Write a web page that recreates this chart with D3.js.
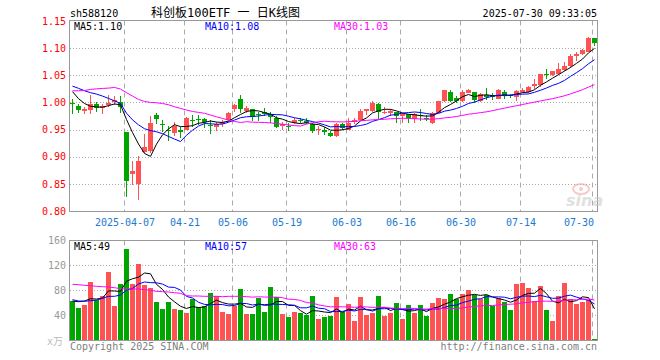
<!DOCTYPE html>
<html><head><meta charset="utf-8">
<script src="https://cdn.jsdelivr.net/npm/d3@7"></script>
<style>
html,body{margin:0;padding:0;background:#fff;}
svg{display:block;}
text{font-family:"DejaVu Sans Mono","Liberation Mono","Noto Sans CJK SC",monospace;font-size:10px;}
</style>
</head><body>
<svg id="c" width="660" height="360"></svg>
<script>
// ---------- data ----------
const dates = [
"2025-03-24","2025-03-25","2025-03-26","2025-03-27","2025-03-28","2025-03-31",
"2025-04-01","2025-04-02","2025-04-03","2025-04-07","2025-04-08","2025-04-09","2025-04-10","2025-04-11",
"2025-04-14","2025-04-15","2025-04-16","2025-04-17","2025-04-18","2025-04-21","2025-04-22","2025-04-23",
"2025-04-24","2025-04-25","2025-04-28","2025-04-29","2025-04-30",
"2025-05-06","2025-05-07","2025-05-08","2025-05-09","2025-05-12","2025-05-13","2025-05-14","2025-05-15",
"2025-05-16","2025-05-19","2025-05-20","2025-05-21","2025-05-22","2025-05-23","2025-05-26","2025-05-27",
"2025-05-28","2025-05-29","2025-05-30",
"2025-06-03","2025-06-04","2025-06-05","2025-06-06","2025-06-09","2025-06-10","2025-06-11","2025-06-12",
"2025-06-13","2025-06-16","2025-06-17","2025-06-18","2025-06-19","2025-06-20","2025-06-23","2025-06-24",
"2025-06-25","2025-06-26","2025-06-27","2025-06-30",
"2025-07-01","2025-07-02","2025-07-03","2025-07-04","2025-07-07","2025-07-08","2025-07-09","2025-07-10",
"2025-07-11","2025-07-14","2025-07-15","2025-07-16","2025-07-17","2025-07-18","2025-07-21","2025-07-22",
"2025-07-23","2025-07-24","2025-07-25","2025-07-28","2025-07-29","2025-07-30"];

const open = [
0.999,0.993,0.985,0.987,0.998,0.991,0.996,1.000,1.000,0.946,
0.869,0.850,0.907,0.912,0.977,0.961,0.949,0.943,0.949,0.949,
0.968,0.970,0.970,0.959,0.955,0.960,0.969,0.988,1.006,0.983,
0.987,0.979,0.983,0.979,0.972,0.956,0.957,0.961,0.968,0.966,
0.960,0.950,0.949,0.944,0.938,0.960,0.951,0.964,0.969,0.984,
0.984,0.998,0.981,0.980,0.982,0.976,0.978,0.969,0.976,0.972,
0.962,0.981,1.003,1.020,1.009,1.003,1.018,1.019,1.003,1.014,
1.013,1.007,1.020,1.013,1.010,1.019,1.019,1.031,1.032,1.053,
1.050,1.052,1.060,1.066,1.087,1.089,1.093,1.118];
const high = [
1.006,0.998,0.992,1.013,1.001,0.998,1.013,1.012,1.012,0.946,
0.893,0.901,0.942,0.975,0.980,0.967,0.956,0.964,0.955,0.974,
0.977,0.976,0.972,0.967,0.964,0.968,0.983,0.998,1.014,0.993,
0.987,0.983,0.989,0.983,0.975,0.964,0.963,0.971,0.971,0.972,
0.963,0.956,0.954,0.948,0.963,0.963,0.972,0.972,0.987,0.988,
1.003,0.999,0.991,0.987,0.983,0.981,0.979,0.980,0.987,0.977,
0.983,1.003,1.023,1.022,1.012,1.022,1.025,1.020,1.018,1.026,
1.018,1.024,1.022,1.016,1.023,1.026,1.030,1.044,1.053,1.061,
1.058,1.073,1.074,1.089,1.093,1.098,1.120,1.118];
const low = [
0.978,0.980,0.979,0.979,0.982,0.979,0.991,0.996,0.980,0.826,
0.848,0.820,0.906,0.907,0.960,0.946,0.929,0.938,0.934,0.949,
0.955,0.958,0.952,0.941,0.947,0.955,0.964,0.983,0.980,0.980,
0.966,0.966,0.975,0.963,0.952,0.950,0.948,0.960,0.963,0.961,
0.944,0.940,0.940,0.936,0.937,0.949,0.949,0.960,0.968,0.976,
0.982,0.970,0.979,0.975,0.963,0.963,0.963,0.963,0.966,0.966,
0.960,0.980,1.001,1.001,0.999,1.001,1.017,0.999,1.001,1.004,
1.004,1.006,1.007,1.009,1.003,1.017,1.017,1.025,1.028,1.044,
1.049,1.050,1.057,1.064,1.077,1.088,1.092,1.104];
const close = [
0.997,0.985,0.988,0.998,0.991,0.994,0.999,1.004,0.990,0.856,
0.874,0.893,0.917,0.963,0.969,0.960,0.947,0.956,0.945,0.971,
0.967,0.969,0.964,0.958,0.961,0.964,0.981,0.995,0.988,0.989,
0.972,0.978,0.979,0.974,0.955,0.960,0.956,0.967,0.967,0.963,
0.948,0.951,0.945,0.938,0.961,0.953,0.963,0.968,0.985,0.988,
0.999,0.983,0.982,0.984,0.974,0.979,0.971,0.979,0.975,0.970,
0.981,1.003,1.023,1.004,1.004,1.019,1.023,1.004,1.015,1.010,
1.010,1.023,1.012,1.011,1.021,1.023,1.028,1.034,1.052,1.052,
1.057,1.061,1.067,1.085,1.090,1.096,1.118,1.109];
// volume, unit: 10k (万)
const volume = [
62.4,51.7,56,93.3,64,70.4,109.3,54.9,90.1,145.6,
90.1,122.1,88,83.7,61.3,49.6,61.3,49.6,48,43.7,
65,53.3,54.4,75.7,70.4,45.3,41.6,53.9,82.1,41.6,
41.6,67.7,44.8,84.8,68.8,41.6,36.8,44.8,43.2,40,
70.4,33.6,36.8,38.4,68.8,44.8,57.6,30.4,68.8,40,
43.2,70.4,38.4,43.2,59.2,33.6,56,43.2,56,38.4,
59.2,67.2,65.6,73.6,65.6,73.6,80,72,65.6,72,
54.4,67.2,60.8,48,89.6,91.2,83.2,62.4,86.4,48,
30.4,70.4,91.2,65.6,57.6,60.8,64,1.2];

const ma5Head  = [1.020,1.007,0.998,0.993];
const ma10Head = [1.030,1.026,1.0215,1.018,1.0154,1.0117,1.0074,1.003,0.998];
const ma30Head = [1.0215,1.0215,1.022,1.024,1.025,1.0258,1.0264,1.0276,1.0246,1.018,
                  1.0117,1.0055,1.0018,1.000,0.9994,0.998,0.9957,0.992,0.989,0.986,
                  0.9834,0.9816,0.980,0.9767,0.9736,0.9705,0.9674,0.965,0.9631];
const volMa5Head  = [62.4,61.3,62.4,66.1];
const volMa10Head = [64.5,62.4,61.9,62.9,64,66.7,69.9,69.9,72];
const volMa30Head = [89.1,88.5,87.5,86.9,85.9,85.3,84.8,83.7,82.1,81.6,
                     81.6,81.6,80.5,79.5,77.9,77.3,76.8,75.7,74.7,70.9,
                     70.4,70.4,69.9,69.9,69.9,69.3,69.9,69.9,69.9];

const priceTicks = [1.15,1.10,1.05,1.00,0.95,0.90,0.85,0.80];
const volTicks = [160,120,80,40];
const dateTicks = ["2025-04-07","2025-04-21","2025-05-06","2025-05-19","2025-06-03","2025-06-16","2025-06-30","2025-07-14","2025-07-30"];
const dateTickLabels = ["2025-04-07","04-21","05-06","05-19","06-03","06-16","06-30","07-14","07-30"];

const symbolText = "sh588120";
const titleText = "科创板100ETF 一 日K线图";
const timeText = "2025-07-30 09:33:05";
const priceMaLabels = ["MA5:1.10","MA10:1.08","MA30:1.03"];
const volMaLabels = ["MA5:49","MA10:57","MA30:63"];
const unitText = "x万";
const copyText = "Copyright 2025 SINA.COM";
const urlText = "http://finance.sina.com.cn";

// ---------- layout ----------
const L = 70, R = 597.5;
const pTop = 20.5, pBot = 211.5;
const vTop = 240.5, vBot = 340.5;
const RED = "#ff5353", GREEN = "#00a600";
const maColors = ["#000000","#0000ff","#ff00ff"];

const svg = d3.select("#c");
svg.append("rect").attr("width",660).attr("height",360).attr("fill","#fff");

const x = d3.scaleBand().domain(dates).range([70, 598]).padding(0);
const y = d3.scaleLinear().domain([0.80, 1.15]).range([211, 21]);
const yv = d3.scaleLinear().domain([0, 160]).range([340, 240]);
const bw = 5, cx = d => x(d) + 2.5;

function ma(vals, n, head) {
  return vals.map((v, i) => i < n - 1 ? head[i] : d3.mean(vals.slice(i - n + 1, i + 1)));
}

// ---------- grids ----------
const grid = svg.append("g");
grid.selectAll(".hp").data(priceTicks.slice(1, -1)).join("line")
  .attr("x1", L).attr("x2", R).attr("y1", d => Math.round(y(d)) + 0.5).attr("y2", d => Math.round(y(d)) + 0.5)
  .attr("stroke", "#aaa").attr("stroke-dasharray", "1,2");
grid.selectAll(".hv").data(volTicks.slice(1)).join("line")
  .attr("x1", L).attr("x2", R).attr("y1", d => Math.round(yv(d)) + 0.5).attr("y2", d => Math.round(yv(d)) + 0.5)
  .attr("stroke", "#aaa").attr("stroke-dasharray", "1,2");
[[pTop, pBot], [vTop, vBot]].forEach(([a, b]) => {
  grid.append("g").selectAll("line").data(dateTicks).join("line")
    .attr("x1", d => x(d) + 0.5).attr("x2", d => x(d) + 0.5)
    .attr("y1", a).attr("y2", b)
    .attr("stroke", "#aaa").attr("stroke-dasharray", "5,4");
});

// ---------- candles ----------
const cColor = i => close[i] >= open[i] ? RED : GREEN;
const cg = svg.append("g");
cg.selectAll("line").data(dates).join("line")
  .attr("x1", d => cx(d)).attr("x2", d => cx(d))
  .attr("y1", (d, i) => y(high[i])).attr("y2", (d, i) => y(low[i]))
  .attr("stroke", (d, i) => cColor(i)).attr("stroke-width", 1).attr("shape-rendering", "crispEdges");
cg.selectAll("rect").data(dates).join("rect")
  .attr("x", d => x(d)).attr("width", bw)
  .attr("y", (d, i) => Math.round(y(Math.max(open[i], close[i]))))
  .attr("height", (d, i) => Math.max(1, Math.round(Math.abs(y(open[i]) - y(close[i])))))
  .attr("fill", (d, i) => cColor(i)).attr("shape-rendering", "crispEdges");

// ---------- price MAs ----------
const priceMA = [ma(close, 5, ma5Head), ma(close, 10, ma10Head), ma(close, 30, ma30Head)];
priceMA.forEach((s, k) => {
  svg.append("path").datum(s)
    .attr("d", d3.line().x((v, i) => cx(dates[i])).y(v => y(v)))
    .attr("fill", "none").attr("stroke", maColors[k]).attr("stroke-width", 1);
});

// ---------- volume ----------
svg.append("g").selectAll("rect").data(dates).join("rect")
  .attr("x", d => x(d)).attr("width", bw)
  .attr("y", (d, i) => Math.round(yv(volume[i])))
  .attr("height", (d, i) => 340 - Math.round(yv(volume[i])))
  .attr("fill", (d, i) => cColor(i)).attr("shape-rendering", "crispEdges");
const volMA = [ma(volume, 5, volMa5Head), ma(volume, 10, volMa10Head), ma(volume, 30, volMa30Head)];
volMA.forEach((s, k) => {
  svg.append("path").datum(s)
    .attr("d", d3.line().x((v, i) => cx(dates[i])).y(v => yv(v)))
    .attr("fill", "none").attr("stroke", maColors[k]).attr("stroke-width", 1);
});

// ---------- frames ----------
[[pTop, pBot], [vTop, vBot]].forEach(([a, b]) => {
  svg.append("rect").attr("x", 69.5).attr("y", a).attr("width", R - 69.5).attr("height", b - a)
    .attr("fill", "none").attr("stroke", "#999").attr("stroke-width", 1);
});

// ---------- axes ----------
const pa = svg.append("g").attr("transform", "translate(70,0)")
  .call(d3.axisLeft(y).tickValues(priceTicks).tickFormat(d3.format(".2f")).tickSize(0).tickPadding(4));
pa.select(".domain").remove();
pa.selectAll("text").attr("fill", "#ff0000");

const va = svg.append("g").attr("transform", "translate(70,0)")
  .call(d3.axisLeft(yv).tickValues(volTicks).tickFormat(d3.format("d")).tickSize(0).tickPadding(4));
va.select(".domain").remove();
va.selectAll("text").attr("fill", "#999");

svg.append("g").selectAll("text").data(dateTicks).join("text")
  .attr("x", (d, i) => i === dateTicks.length - 1 ? 594 : x(d) + 1)
  .attr("y", 226)
  .attr("text-anchor", (d, i) => i === dateTicks.length - 1 ? "end" : "middle")
  .attr("fill", "#1c7ad0")
  .text((d, i) => dateTickLabels[i]);

// ---------- texts ----------
svg.append("text").attr("x", 70).attr("y", 17).attr("fill", "#000").text(symbolText);
svg.append("text").attr("x", 151).attr("y", 17).attr("fill", "#000").style("font-size", "12px").text(titleText);
svg.append("text").attr("x", 597).attr("y", 17).attr("text-anchor", "end").attr("fill", "#000").text(timeText);

const maX = [74, 205, 334];
priceMaLabels.forEach((t, k) => svg.append("text").attr("x", maX[k]).attr("y", 30).attr("fill", maColors[k]).text(t));
volMaLabels.forEach((t, k) => svg.append("text").attr("x", maX[k]).attr("y", 250).attr("fill", maColors[k]).text(t));

svg.append("text").attr("x", 63).attr("y", 345).attr("text-anchor", "end").attr("fill", "#bbb").text(unitText);
svg.append("text").attr("x", 70).attr("y", 350).attr("fill", "#808080").text(copyText);
svg.append("text").attr("x", 597).attr("y", 350).attr("text-anchor", "end").attr("fill", "#808080").text(urlText);

// sina watermark
const wm = svg.append("g").attr("opacity", 0.55);
wm.append("ellipse").attr("cx", 581).attr("cy", 189).attr("rx", 8).attr("ry", 5)
  .attr("fill", "none").attr("stroke", "#f0a0a0").attr("stroke-width", 2);
wm.append("circle").attr("cx", 581).attr("cy", 189).attr("r", 2).attr("fill", "#f0a0a0");
wm.append("text").attr("x", 566).attr("y", 206).attr("fill", "#c8c8c8")
  .style("font-family", "'DejaVu Sans',sans-serif").style("font-size", "16px")
  .style("font-style", "italic").style("font-weight", "bold").text("sina");
</script>
</body></html>
